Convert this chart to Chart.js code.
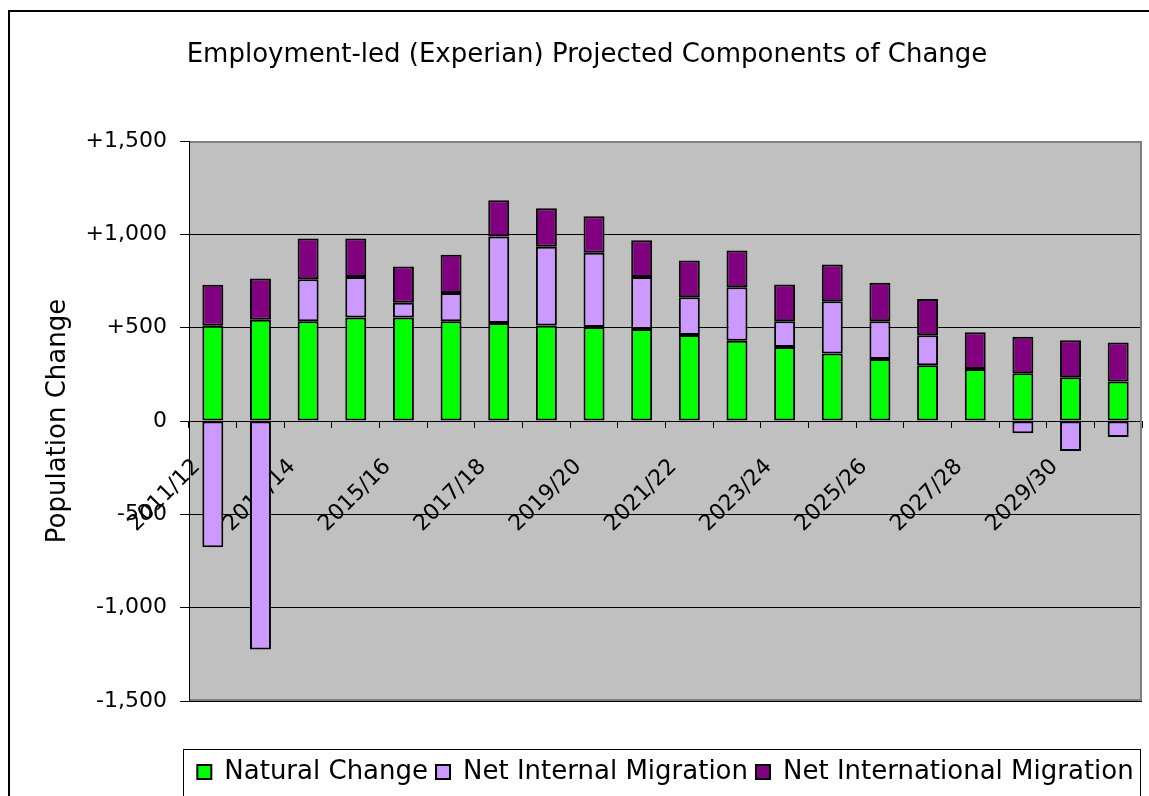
<!DOCTYPE html>
<html>
<head>
<meta charset="utf-8">
<title>Employment-led (Experian) Projected Components of Change</title>
<script src="https://cdn.jsdelivr.net/npm/chart.js@4.4.1/dist/chart.umd.min.js"></script>
<style>
  html, body { margin: 0; padding: 0; background: #fff; overflow: hidden; width: 1149px; height: 796px; }
  #frame { position: absolute; left: 8px; top: 10px; width: 1200px; height: 900px;
           border-left: 2px solid #000; border-top: 2px solid #000; box-sizing: border-box; }
  #chart { position: absolute; left: 0; top: 0; }
</style>
</head>
<body>
<div id="frame"></div>
<canvas id="chart" width="1149" height="805"></canvas>
<script>
// Projection years
const categories = ['2011/12', '2012/13', '2013/14', '2014/15', '2015/16', '2016/17', '2017/18',
  '2018/19', '2019/20', '2020/21', '2021/22', '2022/23', '2023/24', '2024/25', '2025/26',
  '2026/27', '2027/28', '2028/29', '2029/30', '2030/31'];

// Components of population change per year
const naturalChange = [510, 543, 534, 555, 555, 534, 525, 512, 504, 493, 461, 430, 396, 362, 332, 299, 278, 256, 235, 211];
const netInternalMigration = [-676, -1224, 226, 217, 78, 152, 463, 422, 397, 278, 202, 287, 138, 279, 202, 160, 0, -66, -161, -86];
const netInternationalMigration = [220, 220, 218, 206, 195, 205, 195, 206, 196, 197, 197, 197, 197, 198, 206, 195, 197, 196, 197, 210];

// Value axis range
const yMin = -1500;
const yMax = 1500;
const yStep = 500;

const FONT = 'DejaVu Sans';
Chart.defaults.font.family = FONT;
Chart.defaults.color = '#000';

function formatChange(v) {
  const s = Math.abs(v).toLocaleString('en-GB');
  if (v > 0) return '+' + s;
  if (v < 0) return '-' + s;
  return '0';
}

// Grey plot background and its frame
const plotBackdrop = {
  id: 'plotBackdrop',
  beforeDraw(chart) {
    const { ctx, chartArea: a } = chart;
    ctx.save();
    ctx.fillStyle = '#c0c0c0';
    ctx.fillRect(a.left, a.top, a.right - a.left, a.bottom - a.top);
    ctx.restore();
  },
  beforeDatasetsDraw(chart) {
    const { ctx, chartArea: a } = chart;
    ctx.save();
    ctx.strokeStyle = '#808080';
    ctx.lineWidth = 2;
    ctx.beginPath();
    ctx.moveTo(a.left + 1, a.top + 1);
    ctx.lineTo(a.right - 1, a.top + 1);
    ctx.lineTo(a.right - 1, a.bottom - 1);
    ctx.lineTo(a.left + 1, a.bottom - 1);
    ctx.stroke();
    ctx.restore();
  }
};

// Outline around the legend entries
const legendFrame = {
  id: 'legendFrame',
  afterDraw(chart) {
    const boxes = chart.legend && chart.legend.legendHitBoxes;
    if (!boxes || !boxes.length) return;
    const first = boxes[0];
    const last = boxes[boxes.length - 1];
    const left = Math.round(first.left - 14) + 0.5;
    const right = Math.round(last.left + last.width + 6) + 0.5;
    const top = Math.round(first.top - 10) + 0.5;
    const bottom = chart.height + 5;
    const ctx = chart.ctx;
    ctx.save();
    ctx.strokeStyle = '#000';
    ctx.lineWidth = 1;
    ctx.strokeRect(left, top, right - left, bottom - top);
    ctx.restore();
  }
};

new Chart(document.getElementById('chart'), {
  type: 'bar',
  data: {
    labels: categories,
    datasets: [
      { label: 'Natural Change', data: naturalChange, backgroundColor: '#00ff00' },
      { label: 'Net Internal Migration', data: netInternalMigration, backgroundColor: '#cc99ff' },
      { label: 'Net International Migration', data: netInternationalMigration, backgroundColor: '#800080' }
    ]
  },
  options: {
    responsive: false,
    animation: false,
    devicePixelRatio: 1,
    layout: { padding: { left: 32, right: 7, top: 0, bottom: 10 } },
    datasets: {
      bar: {
        borderColor: '#000',
        borderWidth: 2,
        borderSkipped: false,
        barPercentage: 0.44,
        categoryPercentage: 1
      }
    },
    plugins: {
      title: {
        display: true,
        text: 'Employment-led (Experian) Projected Components of Change',
        color: '#000',
        font: { family: FONT, size: 26, weight: 'normal' },
        padding: { top: 39.4, bottom: 70.4 }
      },
      legend: {
        position: 'bottom',
        fullSize: false,
        title: { display: true, text: '', font: { size: 1 }, padding: { top: 48.8, bottom: 0 } },
        labels: {
          color: '#000',
          font: { family: FONT, size: 26 },
          boxWidth: 14,
          boxHeight: 14,
          padding: 8
        }
      },
      tooltip: { enabled: false }
    },
    scales: {
      x: {
        stacked: true,
        position: { y: 0 },
        offset: true,
        grid: {
          offset: true,
          drawOnChartArea: false,
          drawTicks: true,
          tickLength: 6,
          color: '#000',
          lineWidth: 1
        },
        border: { display: true, color: '#000', width: 1 },
        ticks: {
          autoSkip: false,
          maxRotation: 45,
          minRotation: 45,
          padding: 27,
          labelOffset: -16,
          color: '#000',
          font: { family: FONT, size: 22 },
          callback: (v, i) => (i % 2 === 0 ? categories[i] : '')
        },
        afterFit: s => { s.paddingLeft = 0; s.paddingRight = 0; }
      },
      y: {
        stacked: true,
        min: yMin,
        max: yMax,
        ticks: {
          stepSize: yStep,
          padding: 13,
          color: '#000',
          font: { family: FONT, size: 22 },
          callback: v => formatChange(v)
        },
        grid: { color: '#000', lineWidth: 1, drawTicks: true, tickLength: 9 },
        border: { display: true, color: '#000', width: 1 },
        title: {
          display: true,
          text: 'Population Change',
          color: '#000',
          font: { family: FONT, size: 26 },
          padding: { top: 10.4, bottom: 0 }
        },
        afterFit: s => { s.width = 157; }
      }
    }
  },
  plugins: [plotBackdrop, legendFrame]
});
</script>
</body>
</html>
